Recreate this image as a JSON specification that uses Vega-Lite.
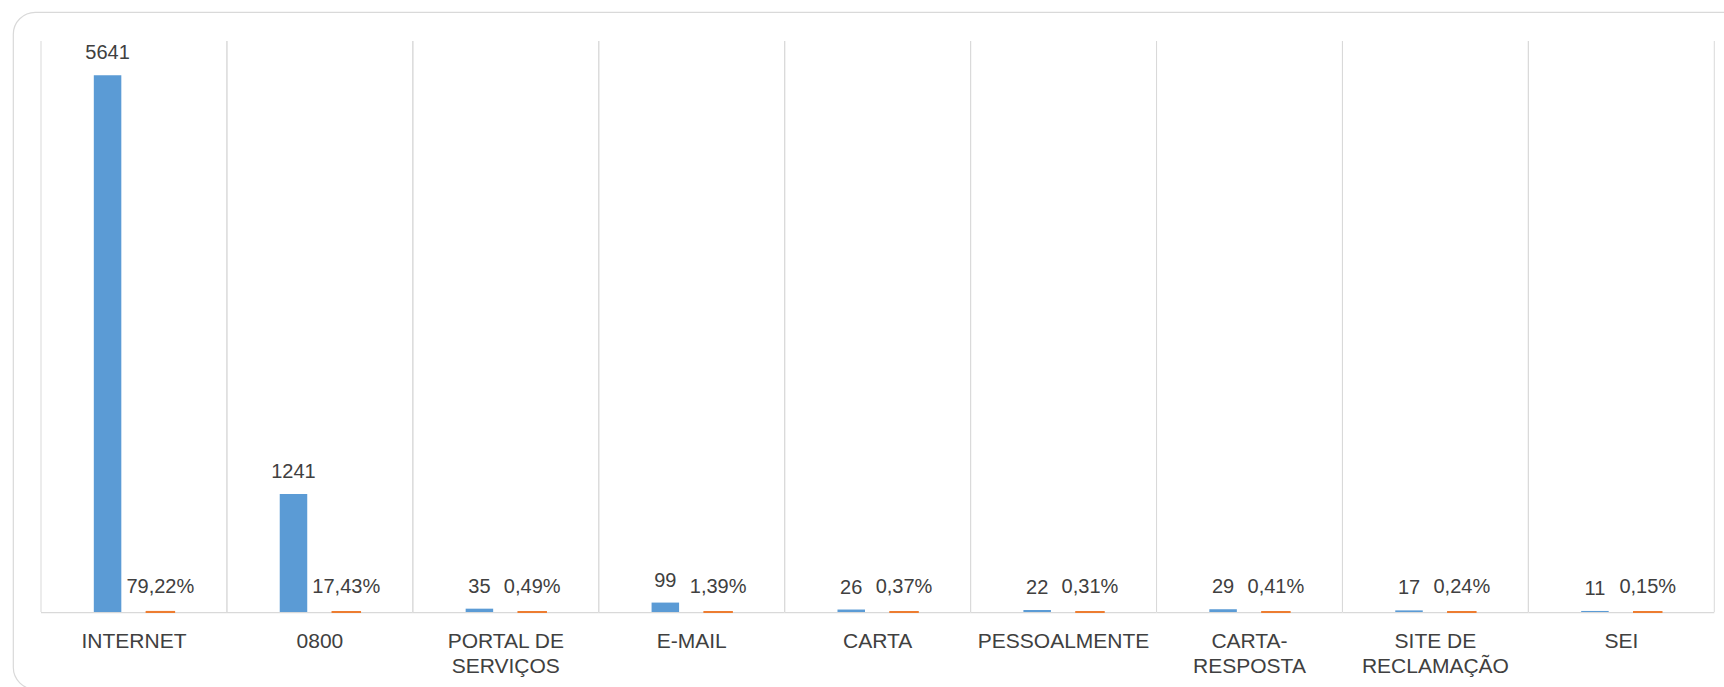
{
  "$schema": "https://vega.github.io/schema/vega-lite/v6.json",
  "width": 1751,
  "height": 677,
  "padding": {"left": 13, "top": 12, "right": -40, "bottom": -2},
  "autosize": {"type": "none"},
  "background": "white",
  "data": {
    "values": [
      {"canal": "INTERNET", "Quantidade": 5641, "Percentual": 0.7922},
      {"canal": "0800", "Quantidade": 1241, "Percentual": 0.1743},
      {"canal": "PORTAL DE SERVIÇOS", "Quantidade": 35, "Percentual": 0.0049},
      {"canal": "E-MAIL", "Quantidade": 99, "Percentual": 0.0139},
      {"canal": "CARTA", "Quantidade": 26, "Percentual": 0.0037},
      {"canal": "PESSOALMENTE", "Quantidade": 22, "Percentual": 0.0031},
      {"canal": "CARTA-RESPOSTA", "Quantidade": 29, "Percentual": 0.0041},
      {"canal": "SITE DE RECLAMAÇÃO", "Quantidade": 17, "Percentual": 0.0024},
      {"canal": "SEI", "Quantidade": 11, "Percentual": 0.0015}
    ]
  },
  "layer": [
    {
      "mark": {"type": "rule", "color": "#d9d9d9", "strokeWidth": 1},
      "encoding": {
        "x": {
          "field": "canal",
          "type": "nominal",
          "bandPosition": 0,
          "title": null,
          "scale": {
            "domain": ["INTERNET", "0800", "PORTAL DE SERVIÇOS", "E-MAIL", "CARTA", "PESSOALMENTE", "CARTA-RESPOSTA", "SITE DE RECLAMAÇÃO", "SEI"],
            "paddingInner": 0,
            "paddingOuter": 0.209,
            "align": 0.3604
          },
          "axis": {
            "orient": "bottom",
            "offset": -77,
            "domain": false,
            "ticks": false,
            "tickSize": 0,
            "grid": false,
            "labelPadding": 18,
            "labelFont": "Liberation Sans",
            "labelFontSize": 21,
            "labelColor": "#404040",
            "labelLineHeight": 25,
            "labelLimit": 0,
            "labelOverlap": false,
            "labelAngle": 0,
            "labelExpr": "datum.label == 'PORTAL DE SERVIÇOS' ? ['PORTAL DE', 'SERVIÇOS'] : datum.label == 'CARTA-RESPOSTA' ? ['CARTA-', 'RESPOSTA'] : datum.label == 'SITE DE RECLAMAÇÃO' ? ['SITE DE', 'RECLAMAÇÃO'] : datum.label"
          }
        },
        "y": {
          "datum": 6000,
          "type": "quantitative",
          "scale": {"domain": [-809.1, 6304.7], "nice": false, "zero": false},
          "axis": null
        },
        "y2": {"datum": 0}
      }
    },
    {
      "mark": {"type": "rule", "color": "#d9d9d9", "strokeWidth": 1},
      "encoding": {
        "x": {"field": "canal", "type": "nominal", "bandPosition": 1, "title": null},
        "y": {"datum": 6000, "type": "quantitative", "axis": null},
        "y2": {"datum": 0}
      }
    },
    {
      "mark": {"type": "bar", "color": "#d9d9d9", "width": {"band": 1}},
      "encoding": {
        "x": {"field": "canal", "type": "nominal", "title": null},
        "y": {"datum": 0, "type": "quantitative", "axis": null},
        "y2": {"datum": -14}
      }
    },
    {
      "transform": [{"fold": ["Quantidade", "Percentual"], "as": ["serie", "valor"]}],
      "mark": {"type": "bar", "strokeWidth": 2},
      "encoding": {
        "x": {"field": "canal", "type": "nominal", "title": null},
        "xOffset": {
          "field": "serie",
          "type": "nominal",
          "scale": {"domain": ["Quantidade", "Percentual"], "paddingInner": 0.479, "paddingOuter": 1.176}
        },
        "y": {"field": "valor", "type": "quantitative", "stack": null, "axis": null},
        "color": {
          "field": "serie",
          "type": "nominal",
          "scale": {"domain": ["Quantidade", "Percentual"], "range": ["#5B9BD5", "#ED7D31"]},
          "legend": null
        },
        "stroke": {
          "condition": {"test": "datum.serie === 'Percentual'", "value": "#ED7D31"},
          "value": "transparent"
        }
      }
    },
    {
      "transform": [
        {"fold": ["Quantidade", "Percentual"], "as": ["serie", "valor"]},
        {"filter": "datum.serie === 'Quantidade'"}
      ],
      "mark": {"type": "text", "baseline": "alphabetic", "dy": -16, "font": "Liberation Sans", "fontSize": 20, "color": "#404040"},
      "encoding": {
        "x": {"field": "canal", "type": "nominal", "title": null},
        "xOffset": {"field": "serie", "type": "nominal"},
        "y": {"field": "valor", "type": "quantitative", "stack": null, "axis": null},
        "text": {"field": "valor", "type": "quantitative", "format": "d"}
      }
    },
    {
      "transform": [
        {"fold": ["Quantidade", "Percentual"], "as": ["serie", "valor"]},
        {"filter": "datum.serie === 'Percentual'"}
      ],
      "mark": {"type": "text", "baseline": "alphabetic", "dy": -19, "font": "Liberation Sans", "fontSize": 20, "color": "#404040"},
      "encoding": {
        "x": {"field": "canal", "type": "nominal", "title": null},
        "xOffset": {"field": "serie", "type": "nominal"},
        "y": {"field": "valor", "type": "quantitative", "stack": null, "axis": null},
        "text": {"field": "valor", "type": "quantitative", "format": ".2%"}
      }
    }
  ],
  "config": {
    "locale": {
      "number": {"decimal": ",", "thousands": ".", "grouping": [3], "currency": ["R$", ""]}
    },
    "view": {"stroke": "#d9d9d9", "strokeWidth": 1.2, "cornerRadius": 22, "fill": "white"}
  }
}
